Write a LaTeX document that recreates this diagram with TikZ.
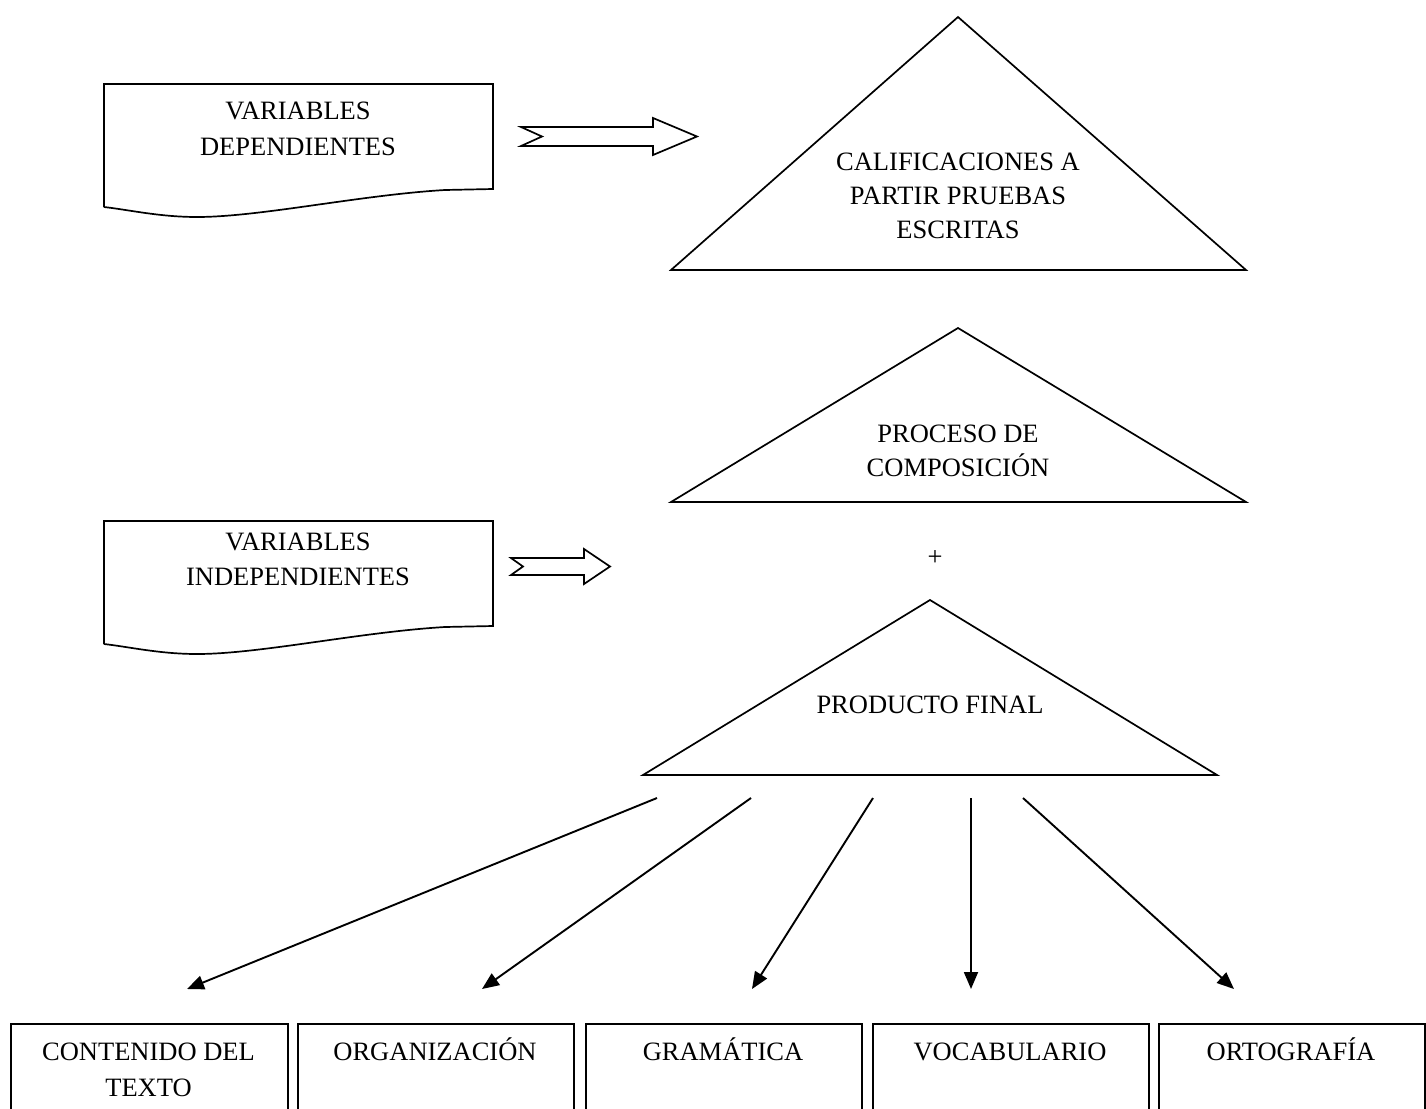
\documentclass[tikz,border=0pt]{standalone}
\usepackage{fontspec}
\setmainfont{Liberation Serif}
\usetikzlibrary{arrows.meta}
\begin{document}
\begin{tikzpicture}[x=1pt,y=-1pt,
  shp/.style={line width=1.7pt, line join=miter},
  lbl/.style={anchor=base, inner sep=0pt, font=\fontsize{26.5}{34}\selectfont},
  conn/.style={line width=1.9pt, -{Triangle[length=17pt,width=14pt]}},
  boxst/.style={draw, line width=1.8pt, anchor=north west, minimum height=110pt, inner sep=0pt}]
\useasboundingbox (0,0) rectangle (1426,1108);
% document shapes
\draw[shp] (104,207) -- (104,84) -- (493,84) -- (493,189) -- (445,190)
  .. controls (360,195) and (260,217) .. (197,217)
  .. controls (160,217) and (130,210) .. (104,207);
\draw[shp] (104,644) -- (104,521) -- (493,521) -- (493,626) -- (445,627)
  .. controls (360,632) and (260,654) .. (197,654)
  .. controls (160,654) and (130,647) .. (104,644);
\node[lbl] (d1a) at (298,119) {VARIABLES};
\node[lbl] (d1b) at (298,155) {DEPENDIENTES};
\node[lbl] (d2a) at (298,550) {VARIABLES};
\node[lbl] (d2b) at (298,585) {INDEPENDIENTES};
% block arrows
\draw[shp] (521,127) -- (653,127) -- (653,118) -- (697,136.5) -- (653,155) -- (653,146) -- (521,146) -- (542,136.5) -- cycle;
\draw[shp] (511,558) -- (584,558) -- (584,549) -- (610,566.5) -- (584,584) -- (584,575) -- (511,575) -- (523,566.5) -- cycle;
% triangles
\draw[shp] (958,17) -- (1246,270) -- (671,270) -- cycle;
\draw[shp] (958,328) -- (1246,502) -- (671,502) -- cycle;
\draw[shp] (930,600) -- (1217,775) -- (643,775) -- cycle;
\node[lbl] (t1a) at (958,170) {CALIFICACIONES A};
\node[lbl] (t1b) at (958,204) {PARTIR PRUEBAS};
\node[lbl] (t1c) at (958,238) {ESCRITAS};
\node[lbl] (t2a) at (958,442) {PROCESO DE};
\node[lbl] (t2b) at (958,476) {COMPOSICIÓN};
\node[lbl] (plus) at (935,565) {+};
\node[lbl] (t3) at (930,713) {PRODUCTO FINAL};
% boxes
\node[boxst, minimum width=277pt] (b1) at (10,1023) {};
\node[boxst, minimum width=276pt] (b2) at (297,1023) {};
\node[boxst, minimum width=276pt] (b3) at (585,1023) {};
\node[boxst, minimum width=276pt] (b4) at (872,1023) {};
\node[boxst, minimum width=266pt] (b5) at (1158,1023) {};
\node[lbl] (b1a) at (148.5,1060) {CONTENIDO DEL};
\node[lbl] (b1b) at (148.5,1096) {TEXTO};
\node[lbl] (b2t) at (435,1060) {ORGANIZACIÓN};
\node[lbl] (b3t) at (723,1060) {GRAMÁTICA};
\node[lbl] (b4t) at (1010,1060) {VOCABULARIO};
\node[lbl] (b5t) at (1291,1060) {ORTOGRAFÍA};
% connectors
\coordinate (s1) at (657,798); \coordinate (e1) at (187,989);
\coordinate (s2) at (751,798); \coordinate (e2) at (482,989);
\coordinate (s3) at (873,798); \coordinate (e3) at (752,989);
\coordinate (s4) at (971,798); \coordinate (e4) at (971,989);
\coordinate (s5) at (1023,798); \coordinate (e5) at (1234,989);
\draw[conn] (s1) -- (e1);
\draw[conn] (s2) -- (e2);
\draw[conn] (s3) -- (e3);
\draw[conn] (s4) -- (e4);
\draw[conn] (s5) -- (e5);
\end{tikzpicture}
\end{document}
